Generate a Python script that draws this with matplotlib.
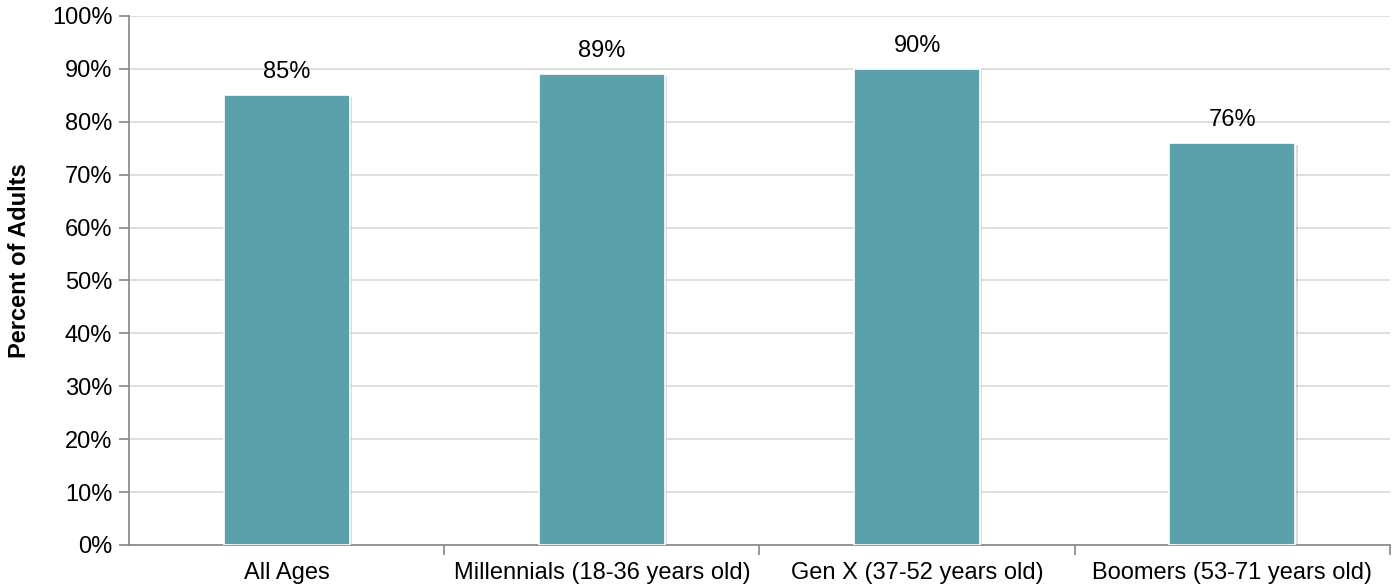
import matplotlib.pyplot as plt
import matplotlib.patheffects as pe
from matplotlib.ticker import MultipleLocator, FuncFormatter

plt.rcParams['font.family'] = ['Liberation Sans', 'DejaVu Sans']

# 各世代の割合
categories = ['All Ages', 'Millennials (18-36 years old)',
              'Gen X (37-52 years old)', 'Boomers (53-71 years old)']
percent = [85, 89, 90, 76]

fig = plt.figure(figsize=(13.96, 5.86), dpi=100)
ax = fig.add_axes([0.0924, 0.07, 0.9033, 0.9027])

x = range(len(categories))
bars = ax.bar(x, percent, width=0.4, color='#5BA1AC', edgecolor='white',
              linewidth=1.2, zorder=3)
for b in bars:
    b.set_path_effects([pe.SimplePatchShadow(offset=(1.5, -1.5), shadow_rgbFace='#999999', alpha=0.35),
                        pe.Normal()])

for xi, v in zip(x, percent):
    ax.text(xi, v + 4.4, f'{v}%', ha='center', va='center', fontsize=17, color='black')

ax.set_xlim(-0.5, len(categories) - 0.5)
ax.set_ylim(0, 100)
ax.yaxis.set_major_locator(MultipleLocator(10))
ax.yaxis.set_major_formatter(FuncFormatter(lambda v, p: f'{v:.0f}%'))
ax.grid(axis='y', color='#D9D9D9', linewidth=1.2, zorder=0)

ax.set_xticks(list(x))
ax.set_xticklabels(categories, fontsize=17)
ax.set_xticks([i + 0.5 for i in range(len(categories))], minor=True)
ax.tick_params(axis='x', which='major', length=0, pad=12)
ax.tick_params(axis='x', which='minor', length=7, color='#868686', width=1.2)
ax.tick_params(axis='y', length=7, color='#868686', width=1.2, labelsize=17, pad=5)

for s in ['top', 'right']:
    ax.spines[s].set_visible(False)
for s in ['left', 'bottom']:
    ax.spines[s].set_color('#868686')
    ax.spines[s].set_linewidth(1.2)

ax.set_ylabel('Percent of Adults', fontsize=17, fontweight='bold')
ax.yaxis.set_label_coords(-0.078, 0.537)

fig.savefig('out.png', dpi=100)
